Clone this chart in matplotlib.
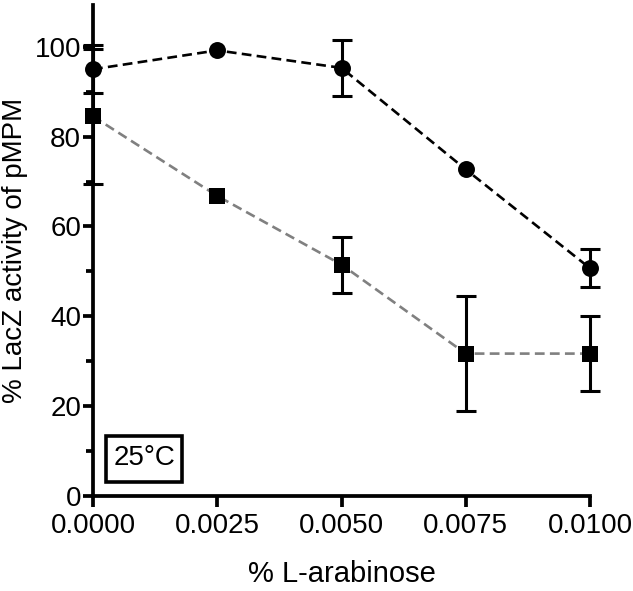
import matplotlib
matplotlib.use("Agg")
import matplotlib.pyplot as plt
from matplotlib.ticker import MultipleLocator
from matplotlib.patches import Rectangle

plt.rcParams['font.family'] = ['Liberation Sans', 'DejaVu Sans']

x = [0.0, 0.0025, 0.005, 0.0075, 0.01]
circle_y = [95.0, 99.2, 95.3, 72.7, 50.7]
circle_err = [5.3, 0.0, 6.3, 0.0, 4.2]
square_y = [84.5, 66.8, 51.5, 31.7, 31.7]
square_err = [15.0, 0.0, 6.2, 12.8, 8.3]
xticks = [0.0, 0.0025, 0.005, 0.0075, 0.01]
xticklabels = ["0.0000", "0.0025", "0.0050", "0.0075", "0.0100"]
yticks = [0, 20, 40, 60, 80, 100]
temp_label = "25°C"

fig = plt.figure(figsize=(6.33, 5.91), dpi=100)
ax = fig.add_axes([93/633, 1-496/591, (590-93)/633, (496-5)/591])

lw_err = 2.2
for yv, ev in [(circle_y, circle_err), (square_y, square_err)]:
    idx = [i for i, e in enumerate(ev) if e > 0]
    ax.errorbar([x[i] for i in idx], [yv[i] for i in idx], yerr=[ev[i] for i in idx],
                fmt='none', ecolor='black', elinewidth=lw_err,
                capsize=7, capthick=lw_err, clip_on=False, zorder=3)

ax.plot(x, circle_y, linestyle=(0, (3.7, 2.0)), color='black', lw=1.9,
        marker='o', markersize=12.2, markerfacecolor='black', markeredgecolor='black',
        markeredgewidth=0, clip_on=False, zorder=4)
ax.plot(x, square_y, linestyle=(0, (3.7, 2.0)), color='#808080', lw=1.9,
        marker='None', clip_on=False, zorder=4)
ax.plot(x, square_y, linestyle='None', marker='s', markersize=12.2,
        markerfacecolor='black', markeredgecolor='black', markeredgewidth=0,
        clip_on=False, zorder=5)

ax.set_xlim(0, 0.01)
ax.set_ylim(0, 109.3)
ax.set_xticks(xticks)
ax.set_xticklabels(xticklabels)
ax.set_yticks(yticks)
ax.yaxis.set_minor_locator(MultipleLocator(10))

for s in ['top', 'right']:
    ax.spines[s].set_visible(False)
for s in ['left', 'bottom']:
    ax.spines[s].set_linewidth(2.7)
    ax.spines[s].set_capstyle('projecting')

ax.tick_params(axis='y', which='major', length=7.5, width=2.7, labelsize=20, pad=1)
ax.tick_params(axis='y', which='minor', length=5, width=2.7)
ax.tick_params(axis='x', which='major', length=8, width=2.7, labelsize=20, pad=4)

ax.set_xlabel('% L-arabinose', fontsize=21, labelpad=15)
ax.set_ylabel('% LacZ activity of pMPM', fontsize=20, labelpad=5)

ax.add_patch(Rectangle((0.00026, 3.1), 0.00154, 10.3, facecolor='white',
                       edgecolor='black', linewidth=2.6, zorder=6, clip_on=False))
ax.text(0.00103, 8.35, temp_label, fontsize=20, ha='center', va='center', zorder=7)

fig.savefig('out.png', dpi=100)
